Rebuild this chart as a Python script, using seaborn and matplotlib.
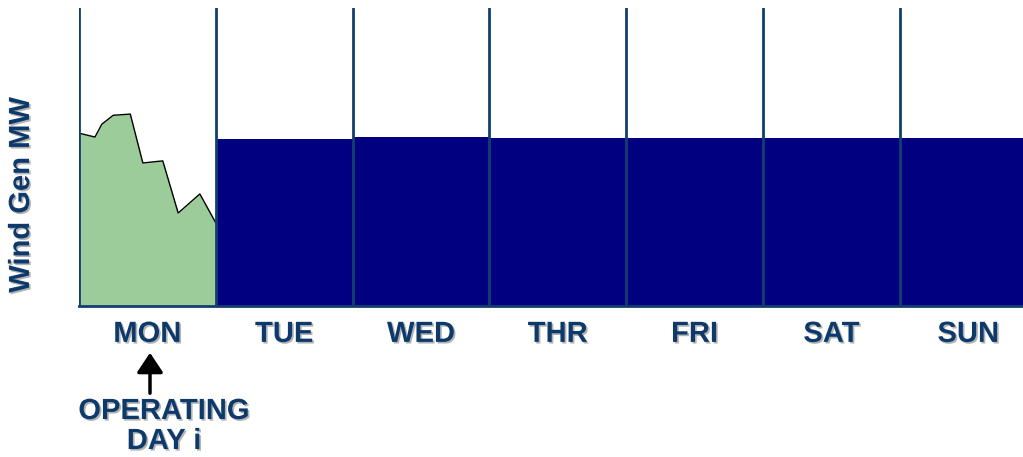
import numpy as np
import pandas as pd
import matplotlib
matplotlib.use("Agg")
import matplotlib.pyplot as plt
import matplotlib.patheffects as pe
import seaborn as sns

# Data
days = ["MON", "TUE", "WED", "THR", "FRI", "SAT", "SUN"]
forecast_days = ["TUE", "WED", "THR", "FRI", "SAT", "SUN"]
forecast_mw = [56.2, 56.8, 56.4, 56.4, 56.4, 56.4]
mon_hours = [0, 2.8, 4.0, 6.0, 9.0, 11.2, 14.7, 17.4, 21.2, 24]
mon_mw = [58.0, 56.7, 61.0, 64.0, 64.4, 48.0, 48.7, 31.2, 37.6, 27.9]

NAVY = "#000080"
LINE = "#123f6e"
TEXT = "#0d3a6b"
GREEN = "#9ccc9a"

sns.set_style("white")
plt.rcParams["font.family"] = ["Liberation Sans", "DejaVu Sans"]

fig = plt.figure(figsize=(10.23, 4.57), dpi=100)
W, H = 1023, 457
ax = fig.add_axes([79 / W, 1 - 306 / H, (W - 79) / W, 298 / H])

df = pd.DataFrame({"day": forecast_days, "mw": forecast_mw})
sns.barplot(data=df, x="day", y="mw", order=days, width=1.0, color=NAVY,
            saturation=1, linewidth=0, ax=ax)

# operating day profile
hx = np.array(mon_hours) / 24.0 - 0.5
ax.fill_between(hx, 0, mon_mw, color=GREEN, lw=0, zorder=3)
ax.plot(hx, mon_mw, color="black", lw=1, zorder=4)

ax.set_xlim(-0.5, (W - 79) / 136.8 - 0.5)
ax.set_ylim(0, 100)

for k in range(7):
    ax.axvline(k - 0.5, color=LINE, lw=2, zorder=5)

for s in ["top", "right", "left"]:
    ax.spines[s].set_visible(False)
ax.spines["bottom"].set_color(LINE)
ax.spines["bottom"].set_linewidth(2)
ax.spines["bottom"].set_zorder(6)

shadow = [pe.SimplePatchShadow(offset=(1.2, -1.2), shadow_rgbFace="#a0a0a0", alpha=0.8), pe.Normal()]

ax.set_yticks([])
ax.set_xlabel("")
ax.set_ylabel("")
ax.tick_params(axis="x", length=0, pad=10)
for lab in ax.get_xticklabels():
    lab.set_fontsize(21)
    lab.set_fontweight("bold")
    lab.set_color(TEXT)
    lab.set_path_effects(shadow)

fig.text(21 / W, 1 - 195 / H, "Wind Gen MW", rotation=90, ha="center", va="center",
         fontsize=21, fontweight="bold", color=TEXT, path_effects=shadow)

ax.annotate("", xy=(150 / W, 1 - 350 / H), xycoords="figure fraction",
            xytext=(150 / W, 1 - 396 / H), textcoords="figure fraction",
            arrowprops=dict(arrowstyle="-|>,head_length=0.6,head_width=0.4",
                            mutation_scale=20, lw=2.5, color="black"),
            annotation_clip=False)

fig.text(164 / W, 1 - 411 / H, "OPERATING", ha="center", va="center",
         fontsize=21, fontweight="bold", color=TEXT, path_effects=shadow)
fig.text(164 / W, 1 - 441 / H, "DAY i", ha="center", va="center",
         fontsize=21, fontweight="bold", color=TEXT, path_effects=shadow)

fig.savefig("out.png", dpi=100)
